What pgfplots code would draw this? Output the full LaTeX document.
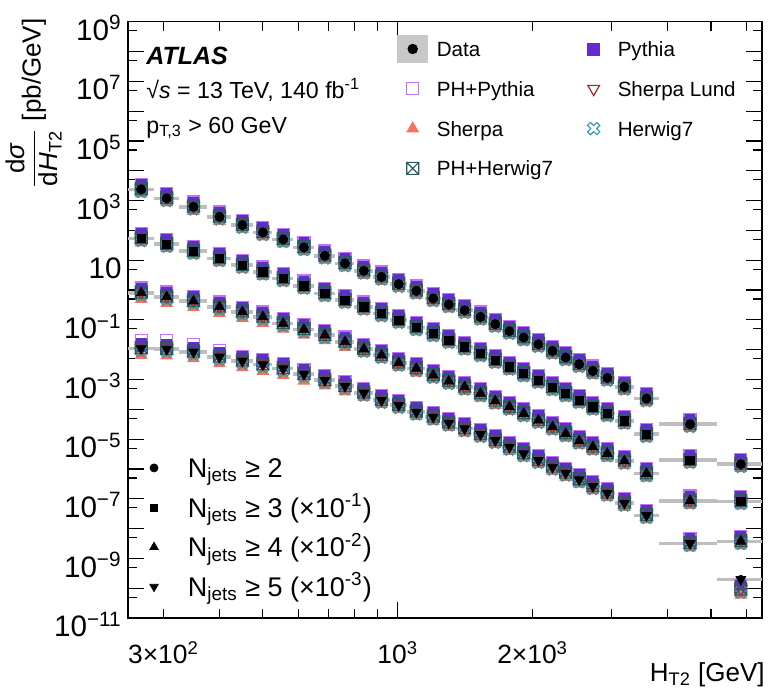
\documentclass[border=0pt]{standalone}
\usepackage{pgfplots}
\pgfplotsset{compat=1.18}
\usepackage{pgfplotstable}
\usepackage{fontspec}
\setmainfont{Liberation Sans}

\definecolor{cPy}{RGB}{98,44,210}
\definecolor{cPhPy}{RGB}{195,115,245}
\definecolor{cSh}{RGB}{248,112,96}
\definecolor{cShL}{RGB}{155,40,40}
\definecolor{cHw}{RGB}{38,158,168}
\definecolor{cPhHw}{RGB}{38,92,98}
\definecolor{cBar}{RGB}{190,190,190}

% square with a cross inside
\pgfdeclareplotmark{sqx}{%
  \pgfpathrectangle{\pgfqpoint{-\pgfplotmarksize}{-\pgfplotmarksize}}{\pgfqpoint{2\pgfplotmarksize}{2\pgfplotmarksize}}%
  \pgfpathmoveto{\pgfqpoint{-\pgfplotmarksize}{-\pgfplotmarksize}}%
  \pgfpathlineto{\pgfqpoint{\pgfplotmarksize}{\pgfplotmarksize}}%
  \pgfpathmoveto{\pgfqpoint{-\pgfplotmarksize}{\pgfplotmarksize}}%
  \pgfpathlineto{\pgfqpoint{\pgfplotmarksize}{-\pgfplotmarksize}}%
  \pgfusepathqstroke}
% open X-shaped cross
\pgfdeclareplotmark{xo}{%
  \pgfpathmoveto{\pgfqpoint{-0.530\pgfplotmarksize}{1.025\pgfplotmarksize}}%
  \pgfpathlineto{\pgfqpoint{0pt}{0.495\pgfplotmarksize}}%
  \pgfpathlineto{\pgfqpoint{0.530\pgfplotmarksize}{1.025\pgfplotmarksize}}%
  \pgfpathlineto{\pgfqpoint{1.025\pgfplotmarksize}{0.530\pgfplotmarksize}}%
  \pgfpathlineto{\pgfqpoint{0.495\pgfplotmarksize}{0pt}}%
  \pgfpathlineto{\pgfqpoint{1.025\pgfplotmarksize}{-0.530\pgfplotmarksize}}%
  \pgfpathlineto{\pgfqpoint{0.530\pgfplotmarksize}{-1.025\pgfplotmarksize}}%
  \pgfpathlineto{\pgfqpoint{0pt}{-0.495\pgfplotmarksize}}%
  \pgfpathlineto{\pgfqpoint{-0.530\pgfplotmarksize}{-1.025\pgfplotmarksize}}%
  \pgfpathlineto{\pgfqpoint{-1.025\pgfplotmarksize}{-0.530\pgfplotmarksize}}%
  \pgfpathlineto{\pgfqpoint{-0.495\pgfplotmarksize}{0pt}}%
  \pgfpathlineto{\pgfqpoint{-1.025\pgfplotmarksize}{0.530\pgfplotmarksize}}%
  \pgfpathclose
  \pgfusepathqstroke}

% x = bin centre, ex = half bin width, d = data, then the predictions
\pgfplotstableread{
x ex d py php sh shl hw phhw
267.5 17.5 2.38e3 3.21e3 3.45e3 1.71e3 2.50e3 2.02e3 2.55e3
305 20 1.19e3 1.61e3 1.73e3 857 1.25e3 1.01e3 1.27e3
350 25 620 837 899 446 651 527 663
400 25 286 386 415 206 300 243 306
450 25 151 204 219 109 159 128 162
500 25 85.7 116 124 61.7 90.0 72.8 91.7
555 30 49.9 67.4 72.4 35.9 52.4 42.4 53.4
617.5 32.5 26.9 36.3 39.0 19.4 28.2 22.9 28.8
687.5 37.5 14.1 19.0 20.4 10.2 14.8 12.0 15.1
762.5 37.5 7.81 10.5 11.3 5.62 8.20 6.64 8.36
840 40 4.41 5.95 6.39 3.18 4.63 3.75 4.72
920 40 2.77 3.74 4.02 1.99 2.91 2.35 2.96
1005 45 1.58 2.13 2.29 1.14 1.66 1.34 1.69
1100 50 0.94 1.27 1.36 0.677 0.987 0.799 1.01
1200 50 0.522 0.705 0.757 0.376 0.548 0.444 0.559
1300 50 0.329 0.444 0.477 0.237 0.345 0.280 0.352
1410 60 0.211 0.285 0.306 0.152 0.222 0.179 0.226
1530 60 0.126 0.170 0.183 0.0907 0.132 0.107 0.135
1650 60 0.0718 0.0969 0.104 0.0517 0.0754 0.0610 0.0768
1775 65 0.0418 0.0564 0.0606 0.0301 0.0439 0.0355 0.0447
1910 70 0.0256 0.0346 0.0371 0.0184 0.0269 0.0218 0.0274
2060 80 0.0153 0.0207 0.0222 0.0110 0.0161 0.0130 0.0164
2215 75 9.12e-3 0.0123 0.0132 6.57e-3 9.58e-3 7.75e-3 9.76e-3
2370 80 5.47e-3 7.38e-3 7.93e-3 3.94e-3 5.74e-3 4.65e-3 5.85e-3
2540 90 3.26e-3 4.40e-3 4.73e-3 2.35e-3 3.42e-3 2.77e-3 3.49e-3
2725 95 1.95e-3 2.63e-3 2.83e-3 1.40e-3 2.05e-3 1.66e-3 2.09e-3
2935 115 1.13e-3 1.53e-3 1.64e-3 8.14e-4 1.19e-3 9.61e-4 1.21e-3
3205 155 5.65e-4 7.63e-4 8.19e-4 4.07e-4 5.93e-4 4.80e-4 6.05e-4
3590 230 2.30e-4 3.11e-4 3.34e-4 1.66e-4 2.42e-4 1.96e-4 2.46e-4
4490 670 3.16e-5 4.27e-5 4.58e-5 2.28e-5 3.32e-5 2.69e-5 3.38e-5
5830 670 1.44e-6 1.94e-6 2.09e-6 1.04e-6 1.51e-6 1.22e-6 1.54e-6
}\tabA

\pgfplotstableread{
x ex d py php sh shl hw phhw
267.5 17.5 54.0 72.9 78.3 38.9 56.7 45.9 57.8
305 20 34.7 46.8 50.3 25.0 36.4 29.5 37.1
350 25 20.2 27.3 29.3 14.5 21.2 17.2 21.6
400 25 11.5 15.5 16.7 8.28 12.1 9.78 12.3
450 25 6.85 9.25 9.93 4.93 7.19 5.82 7.33
500 25 4.08 5.51 5.92 2.94 4.28 3.47 4.37
555 30 2.45 3.31 3.55 1.76 2.57 2.08 2.62
617.5 32.5 1.38 1.86 2.00 0.994 1.45 1.17 1.48
687.5 37.5 0.769 1.04 1.12 0.554 0.807 0.654 0.823
762.5 37.5 0.458 0.618 0.664 0.330 0.481 0.389 0.490
840 40 0.273 0.369 0.396 0.197 0.287 0.232 0.292
920 40 0.164 0.221 0.238 0.118 0.172 0.139 0.175
1005 45 0.0977 0.132 0.142 0.0703 0.103 0.0830 0.105
1100 50 0.0556 0.0751 0.0806 0.0400 0.0584 0.0473 0.0595
1200 50 0.0350 0.0473 0.0508 0.0252 0.0368 0.0298 0.0375
1300 50 0.0208 0.0281 0.0302 0.0150 0.0218 0.0177 0.0223
1410 60 0.0124 0.0167 0.0180 8.93e-3 0.0130 0.0105 0.0133
1530 60 7.45e-3 0.0101 0.0108 5.36e-3 7.82e-3 6.33e-3 7.97e-3
1650 60 4.45e-3 6.01e-3 6.45e-3 3.20e-3 4.67e-3 3.78e-3 4.76e-3
1775 65 2.65e-3 3.58e-3 3.84e-3 1.91e-3 2.78e-3 2.25e-3 2.84e-3
1910 70 1.59e-3 2.15e-3 2.31e-3 1.14e-3 1.67e-3 1.35e-3 1.70e-3
2060 80 9.48e-4 1.28e-3 1.37e-3 6.83e-4 9.95e-4 8.06e-4 1.01e-3
2215 75 5.40e-4 7.29e-4 7.83e-4 3.89e-4 5.67e-4 4.59e-4 5.78e-4
2370 80 3.39e-4 4.58e-4 4.92e-4 2.44e-4 3.56e-4 2.88e-4 3.63e-4
2540 90 2.02e-4 2.73e-4 2.93e-4 1.45e-4 2.12e-4 1.72e-4 2.16e-4
2725 95 1.20e-4 1.62e-4 1.74e-4 8.64e-5 1.26e-4 1.02e-4 1.28e-4
2935 115 7.23e-5 9.76e-5 1.05e-4 5.21e-5 7.59e-5 6.15e-5 7.74e-5
3205 155 4.08e-5 5.51e-5 5.92e-5 2.94e-5 4.28e-5 3.47e-5 4.37e-5
3590 230 1.46e-5 1.97e-5 2.12e-5 1.05e-5 1.53e-5 1.24e-5 1.56e-5
4490 670 1.96e-6 2.65e-6 2.84e-6 1.41e-6 2.06e-6 1.67e-6 2.10e-6
5830 670 8.24e-8 1.11e-7 1.19e-7 5.93e-8 8.65e-8 7.00e-8 8.82e-8
}\tabB

\pgfplotstableread{
x ex d py php sh shl hw phhw
267.5 17.5 0.805 1.09 1.17 0.499 0.845 0.684 0.861
305 20 0.592 0.799 0.858 0.367 0.622 0.503 0.633
350 25 0.425 0.574 0.616 0.264 0.446 0.361 0.455
400 25 0.273 0.369 0.396 0.169 0.287 0.232 0.292
450 25 0.185 0.250 0.268 0.115 0.194 0.157 0.198
500 25 0.126 0.170 0.183 0.0781 0.132 0.107 0.135
555 30 0.0757 0.102 0.110 0.0499 0.0795 0.0643 0.0810
617.5 32.5 0.0476 0.0643 0.0690 0.0314 0.0500 0.0405 0.0509
687.5 37.5 0.0307 0.0414 0.0445 0.0203 0.0322 0.0261 0.0328
762.5 37.5 0.0183 0.0247 0.0265 0.0121 0.0192 0.0156 0.0196
840 40 0.0105 0.0142 0.0152 7.56e-3 0.0110 8.93e-3 0.0112
920 40 6.53e-3 8.82e-3 9.47e-3 4.70e-3 6.86e-3 5.55e-3 6.99e-3
1005 45 3.60e-3 4.86e-3 5.22e-3 2.59e-3 3.78e-3 3.06e-3 3.85e-3
1100 50 2.34e-3 3.16e-3 3.39e-3 1.68e-3 2.46e-3 1.99e-3 2.50e-3
1200 50 1.39e-3 1.88e-3 2.02e-3 1.00e-3 1.46e-3 1.18e-3 1.49e-3
1300 50 8.77e-4 1.18e-3 1.27e-3 6.31e-4 9.21e-4 7.45e-4 9.38e-4
1410 60 5.65e-4 7.63e-4 8.19e-4 4.07e-4 5.93e-4 4.80e-4 6.05e-4
1530 60 3.39e-4 4.58e-4 4.92e-4 2.44e-4 3.56e-4 2.88e-4 3.63e-4
1650 60 1.91e-4 2.58e-4 2.77e-4 1.38e-4 2.01e-4 1.62e-4 2.04e-4
1775 65 1.20e-4 1.62e-4 1.74e-4 8.64e-5 1.26e-4 1.02e-4 1.28e-4
1910 70 7.23e-5 9.76e-5 1.05e-4 5.21e-5 7.59e-5 6.15e-5 7.74e-5
2060 80 4.31e-5 5.82e-5 6.25e-5 3.10e-5 4.53e-5 3.66e-5 4.61e-5
2215 75 2.56e-5 3.46e-5 3.71e-5 1.84e-5 2.69e-5 2.18e-5 2.74e-5
2370 80 1.54e-5 2.08e-5 2.23e-5 1.11e-5 1.62e-5 1.31e-5 1.65e-5
2540 90 8.71e-6 1.18e-5 1.26e-5 6.27e-6 9.15e-6 7.40e-6 9.32e-6
2725 95 5.47e-6 7.38e-6 7.93e-6 3.94e-6 5.74e-6 4.65e-6 5.85e-6
2935 115 3.29e-6 4.44e-6 4.77e-6 2.37e-6 3.45e-6 2.80e-6 3.52e-6
3205 155 1.85e-6 2.50e-6 2.68e-6 1.33e-6 1.94e-6 1.57e-6 1.98e-6
3590 230 7.02e-7 9.48e-7 1.02e-6 5.05e-7 7.37e-7 5.97e-7 7.51e-7
4490 670 8.57e-8 1.16e-7 1.24e-7 6.17e-8 9.00e-8 7.28e-8 9.17e-8
5830 670 3.75e-9 5.06e-9 5.44e-9 2.70e-9 3.94e-9 3.19e-9 4.01e-9
}\tabC

\pgfplotstableread{
x ex d py php sh shl hw phhw
267.5 17.5 0.0110 0.0149 0.0209 6.60e-3 0.0116 9.35e-3 0.0118
305 20 0.0105 0.0142 0.0200 6.30e-3 0.0110 8.93e-3 0.0112
350 25 8.43e-3 0.0114 0.0152 5.06e-3 8.85e-3 7.17e-3 9.02e-3
400 25 5.73e-3 7.74e-3 9.17e-3 3.44e-3 6.02e-3 4.87e-3 6.13e-3
450 25 4.21e-3 5.68e-3 6.10e-3 2.53e-3 4.42e-3 3.58e-3 4.50e-3
500 25 3.18e-3 4.29e-3 4.61e-3 1.91e-3 3.34e-3 2.70e-3 3.40e-3
555 30 2.34e-3 3.16e-3 3.39e-3 1.40e-3 2.46e-3 1.99e-3 2.50e-3
617.5 32.5 1.51e-3 2.04e-3 2.19e-3 9.06e-4 1.59e-3 1.28e-3 1.62e-3
687.5 37.5 9.48e-4 1.28e-3 1.37e-3 6.26e-4 9.95e-4 8.06e-4 1.01e-3
762.5 37.5 5.96e-4 8.05e-4 8.64e-4 3.93e-4 6.26e-4 5.07e-4 6.38e-4
840 40 3.55e-4 4.79e-4 5.15e-4 2.56e-4 3.73e-4 3.02e-4 3.80e-4
920 40 2.02e-4 2.73e-4 2.93e-4 1.45e-4 2.12e-4 1.72e-4 2.16e-4
1005 45 1.37e-4 1.85e-4 1.99e-4 9.86e-5 1.44e-4 1.16e-4 1.47e-4
1100 50 8.18e-5 1.10e-4 1.19e-4 5.89e-5 8.59e-5 6.95e-5 8.75e-5
1200 50 5.56e-5 7.51e-5 8.06e-5 4.00e-5 5.84e-5 4.73e-5 5.95e-5
1300 50 3.50e-5 4.73e-5 5.08e-5 2.52e-5 3.68e-5 2.98e-5 3.75e-5
1410 60 2.27e-5 3.06e-5 3.29e-5 1.63e-5 2.38e-5 1.93e-5 2.43e-5
1530 60 1.46e-5 1.97e-5 2.12e-5 1.05e-5 1.53e-5 1.24e-5 1.56e-5
1650 60 9.18e-6 1.24e-5 1.33e-5 6.61e-6 9.64e-6 7.80e-6 9.82e-6
1775 65 5.47e-6 7.38e-6 7.93e-6 3.94e-6 5.74e-6 4.65e-6 5.85e-6
1910 70 3.29e-6 4.44e-6 4.77e-6 2.37e-6 3.45e-6 2.80e-6 3.52e-6
2060 80 1.96e-6 2.65e-6 2.84e-6 1.41e-6 2.06e-6 1.67e-6 2.10e-6
2215 75 1.17e-6 1.58e-6 1.70e-6 8.42e-7 1.23e-6 9.95e-7 1.25e-6
2370 80 7.35e-7 9.92e-7 1.07e-6 5.29e-7 7.72e-7 6.25e-7 7.86e-7
2540 90 4.41e-7 5.95e-7 6.39e-7 3.18e-7 4.63e-7 3.75e-7 4.72e-7
2725 95 2.62e-7 3.54e-7 3.80e-7 1.89e-7 2.75e-7 2.23e-7 2.80e-7
2935 115 1.57e-7 2.12e-7 2.28e-7 1.13e-7 1.65e-7 1.33e-7 1.68e-7
3205 155 7.23e-8 9.76e-8 1.05e-7 5.21e-8 7.59e-8 6.15e-8 7.74e-8
3590 230 2.79e-8 3.77e-8 4.05e-8 2.01e-8 2.93e-8 2.37e-8 2.99e-8
4490 670 3.21e-9 4.33e-9 4.65e-9 2.31e-9 3.37e-9 2.73e-9 3.43e-9
5830 670 1.99e-10 1.20e-10 1.25e-10 6.0e-11 9.5e-11 7.5e-11 9.5e-11
}\tabD

\pgfplotsset{
  gbar/.style={forget plot, only marks, mark=none,
    error bars/.cd, x dir=both, x explicit, error mark=none,
    error bar style={line width=1.8pt, cBar}},
  mPy/.style={forget plot, only marks, mark=square*, mark size=3pt, color=cPy},
  mPhPy/.style={forget plot, only marks, mark=square, mark size=3pt, color=cPhPy, mark options={line width=0.6pt}},
  mSh/.style={forget plot, only marks, mark=triangle*, mark size=3.3pt, color=cSh},
  mShL/.style={forget plot, only marks, mark=triangle, mark size=3.4pt, color=cShL, mark options={rotate=180, line width=0.6pt}},
  mHw/.style={forget plot, only marks, mark=xo, mark size=3pt, color=cHw, mark options={line width=0.55pt}},
  mPhHw/.style={forget plot, only marks, mark=sqx, mark size=3pt, color=cPhHw, mark options={line width=0.6pt}},
  legimg/.style={legend image code/.code={%
    \path (0cm,-6.75pt) (0.6cm,6.75pt);
    \draw[##1] plot coordinates {(0.3cm,0cm)};}},
  legimgb/.style={legend image code/.code={%
    \path (0cm,-4.85pt) (0.6cm,4.85pt);
    \draw[##1] plot coordinates {(0.3cm,0cm)};}},
}

\begin{document}
\begin{tikzpicture}
\begin{axis}[
  scale only axis, width=317pt, height=298.2pt,
  xmode=log, ymode=log,
  xmin=250, xmax=6500, ymin=1e-11, ymax=1e9,
  axis line style={line width=0.7pt},
  tick align=inside, tick pos=both,
  every tick/.style={black, line width=0.6pt},
  major tick length=8pt, minor tick length=4.5pt,
  xtick={1000}, xticklabels={10\textsuperscript{3}},
  extra x ticks={300,2000},
  extra x tick labels={3×10\textsuperscript{2},2×10\textsuperscript{3}},
  extra x tick style={major tick length=4.5pt},
  minor xtick={400,500,600,700,800,900,3000,4000,5000,6000},
  ytick={1e-11,1e-10,1e-9,1e-8,1e-7,1e-6,1e-5,1e-4,1e-3,1e-2,1e-1,1,10,100,1e3,1e4,1e5,1e6,1e7,1e8,1e9},
  yticklabels={10\textsuperscript{−11},,10\textsuperscript{−9},,10\textsuperscript{−7},,10\textsuperscript{−5},,10\textsuperscript{−3},,10\textsuperscript{−1},,10,,10\textsuperscript{3},,10\textsuperscript{5},,10\textsuperscript{7},,10\textsuperscript{9}},
  minor ytick={5e-11,5e-10,5e-9,5e-8,5e-7,5e-6,5e-5,5e-4,5e-3,5e-2,0.5,5,50,500,5e3,5e4,5e5,5e6,5e7,5e8},
  xticklabel style={font=\fontsize{13.2}{15}\selectfont, anchor=base, yshift=-22.5pt, inner sep=0pt},
  yticklabel style={font=\fontsize{14.8}{17}\selectfont, anchor=base east, xshift=-3pt, yshift=-9.3pt, inner sep=0pt},
  legend columns=2, legend cell align=left,
  legend style={draw=none, fill=none, at={(0.4209,0.9782)}, anchor=north west,
    inner sep=0pt, row sep=6pt,
    font=\fontsize{10.3}{12}\selectfont,
    nodes={inner sep=0pt, text height=7.5pt, text depth=0pt},
    /tikz/every odd column/.append style={column sep=3.3pt},
    /tikz/every even column/.append style={column sep=11.6pt}},
]
\coordinate (fsw) at (rel axis cs:0,0);
\coordinate (fne) at (rel axis cs:1,1);
\coordinate (fnw) at (rel axis cs:0,1);
\coordinate (fse) at (rel axis cs:1,0);

% bin widths of the data
\addplot[gbar] table[x=x, y=d, x error=ex] {\tabA};
\addplot[gbar] table[x=x, y=d, x error=ex] {\tabB};
\addplot[gbar] table[x=x, y=d, x error=ex] {\tabC};
\addplot[gbar] table[x=x, y=d, x error=ex] {\tabD};

% predictions
\addplot[mPy] table[x=x, y=py] {\tabA};
\addplot[mPhPy] table[x=x, y=php] {\tabA};
\addplot[mSh] table[x=x, y=sh] {\tabA};
\addplot[mShL] table[x=x, y=shl] {\tabA};
\addplot[mHw] table[x=x, y=hw] {\tabA};
\addplot[mPhHw] table[x=x, y=phhw] {\tabA};

\addplot[mPy] table[x=x, y=py] {\tabB};
\addplot[mPhPy] table[x=x, y=php] {\tabB};
\addplot[mSh] table[x=x, y=sh] {\tabB};
\addplot[mShL] table[x=x, y=shl] {\tabB};
\addplot[mHw] table[x=x, y=hw] {\tabB};
\addplot[mPhHw] table[x=x, y=phhw] {\tabB};

\addplot[mPy] table[x=x, y=py] {\tabC};
\addplot[mPhPy] table[x=x, y=php] {\tabC};
\addplot[mSh] table[x=x, y=sh] {\tabC};
\addplot[mShL] table[x=x, y=shl] {\tabC};
\addplot[mHw] table[x=x, y=hw] {\tabC};
\addplot[mPhHw] table[x=x, y=phhw] {\tabC};

\addplot[mPy] table[x=x, y=py] {\tabD};
\addplot[mPhPy] table[x=x, y=php] {\tabD};
\addplot[mSh] table[x=x, y=sh] {\tabD};
\addplot[mShL] table[x=x, y=shl] {\tabD};
\addplot[mHw] table[x=x, y=hw] {\tabD};
\addplot[mPhHw] table[x=x, y=phhw] {\tabD};

% data
\addplot[forget plot, only marks, mark=*, mark size=2.3pt, black] table[x=x, y=d] {\tabA};
\addplot[forget plot, only marks, mark=square*, mark size=2.1pt, black] table[x=x, y=d] {\tabB};
\addplot[forget plot, only marks, mark=triangle*, mark size=2.8pt, black] table[x=x, y=d] {\tabC};
\addplot[forget plot, only marks, mark=triangle*, mark size=2.8pt, black, mark options={rotate=180}] table[x=x, y=d] {\tabD};

% legend, filled row by row
\addlegendimage{legend image code/.code={%
  \fill[cBar!85] (0.3cm-7.5pt,-6.75pt) rectangle (0.3cm+7.5pt,6.75pt);
  \path (0cm,0cm) (0.6cm,0cm);
  \draw[black, mark=*, mark size=2.4pt] plot coordinates {(0.3cm,0cm)};}}
\addlegendentry{Data}
\addlegendimage{legimg, mark=square*, mark size=3pt, color=cPy}
\addlegendentry{Pythia}
\addlegendimage{legimg, mark=square, mark size=3pt, color=cPhPy, mark options={line width=0.6pt}}
\addlegendentry{PH+Pythia}
\addlegendimage{legimg, mark=triangle, mark size=3.4pt, color=cShL, mark options={rotate=180, line width=0.6pt}}
\addlegendentry{Sherpa Lund}
\addlegendimage{legimg, mark=triangle*, mark size=3.3pt, color=cSh}
\addlegendentry{Sherpa}
\addlegendimage{legimg, mark=xo, mark size=3pt, color=cHw, mark options={line width=0.55pt}}
\addlegendentry{Herwig7}
\addlegendimage{legimg, mark=sqx, mark size=3pt, color=cPhHw, mark options={line width=0.6pt}}
\addlegendentry{PH+Herwig7}
\end{axis}

% second legend for the jet multiplicities
\begin{axis}[
  hide axis, scale only axis, width=317pt, height=298.2pt,
  xmin=0, xmax=1, ymin=0, ymax=1,
  legend cell align=left,
  legend style={draw=none, fill=none, at={(0.0129,0.2694)}, anchor=north west,
    inner sep=0pt, row sep=9.7pt,
    font=\fontsize{13.5}{15}\selectfont,
    nodes={inner sep=0pt, text height=9.7pt, text depth=0pt},
    /tikz/every odd column/.append style={column sep=8.2pt}},
]
\addlegendimage{legimgb, black, mark=*, mark size=2pt}
\addlegendentry{N\textsubscript{jets} ≥ 2}
\addlegendimage{legimgb, black, mark=square*, mark size=1.8pt}
\addlegendentry{N\textsubscript{jets} ≥ 3 (×10\textsuperscript{-1})}
\addlegendimage{legimgb, black, mark=triangle*, mark size=2.4pt}
\addlegendentry{N\textsubscript{jets} ≥ 4 (×10\textsuperscript{-2})}
\addlegendimage{legimgb, black, mark=triangle*, mark size=2.4pt, mark options={rotate=180}}
\addlegendentry{N\textsubscript{jets} ≥ 5 (×10\textsuperscript{-3})}
\end{axis}

\node[anchor=base west, inner sep=0pt, font=\bfseries\itshape\fontsize{12.5}{14}\selectfont]
  at ([xshift=9pt,yshift=-21.65pt]fnw) {ATLAS};
\node[anchor=base west, inner sep=0pt, font=\fontsize{11.6}{14}\selectfont]
  at ([xshift=9pt,yshift=-38.3pt]fnw) {√\textit{s} = 13 TeV, 140 fb\textsuperscript{-1}};
\node[anchor=base west, inner sep=0pt, font=\fontsize{11.6}{14}\selectfont]
  at ([xshift=9pt,yshift=-55.8pt]fnw) {p\textsubscript{T,3} > 60 GeV};
\node[anchor=base east, inner sep=0pt, font=\fontsize{13}{15}\selectfont]
  at ([xshift=1.5pt,yshift=-31.5pt]fse) {H\textsubscript{T2} [GeV]};
\node[rotate=90, anchor=south east, inner sep=0pt, font=\fontsize{13}{15}\selectfont]
  at ([xshift=-33pt,yshift=1.8pt]fnw)
  {$\displaystyle\frac{\mbox{d\textit{σ}}}{\mbox{d\textit{H}\textsubscript{T2}}}$ [pb/GeV]};

\pgfresetboundingbox
\path[use as bounding box] ([xshift=-64pt,yshift=-36pt]fsw) rectangle ([xshift=3pt,yshift=10.85pt]fne);
\end{tikzpicture}
\end{document}
